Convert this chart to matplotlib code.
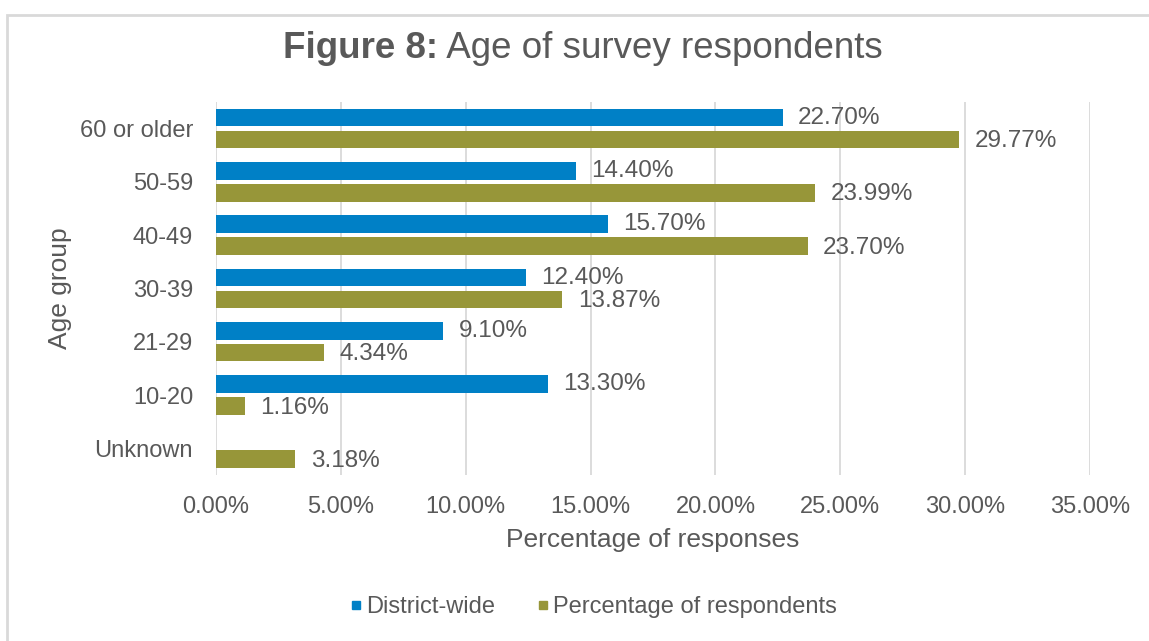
import numpy as np
import matplotlib
matplotlib.use("Agg")
import matplotlib.pyplot as plt
from matplotlib.lines import Line2D
from matplotlib.patches import Rectangle

plt.rcParams['font.family'] = ['Liberation Sans', 'DejaVu Sans']

age_groups = ["60 or older", "50-59", "40-49", "30-39", "21-29", "10-20", "Unknown"]
district_wide = [22.70, 14.40, 15.70, 12.40, 9.10, 13.30, np.nan]
respondents = [29.77, 23.99, 23.70, 13.87, 4.34, 1.16, 3.18]

blue = "#0080C6"
olive = "#979639"
text_col = "#595959"
grid_col = "#D9D9D9"

fig = plt.figure(figsize=(11.49, 6.41), dpi=100)
ax = fig.add_axes([0.188, 0.259, 0.7607, 0.582])

# frame of the chart area
fig.patches.append(Rectangle((7 / 1149, -0.05), 1.1, 1 - 15 / 641 + 0.05,
                             transform=fig.transFigure, fill=False,
                             edgecolor=grid_col, linewidth=2))

y = np.arange(len(age_groups))
h = 0.33
off = 0.205
ax.barh(y - off, district_wide, height=h, color=blue, zorder=2)
ax.barh(y + off, respondents, height=h, color=olive, zorder=2)

for yi, v in zip(y, district_wide):
    if not np.isnan(v):
        ax.annotate(f"{v:.2f}%", (v, yi - off), xytext=(11, 0), textcoords="offset points",
                    va="center", ha="left", fontsize=17.5, color=text_col)
for yi, v in zip(y, respondents):
    ax.annotate(f"{v:.2f}%", (v, yi + off + 0.03), xytext=(11, 0), textcoords="offset points",
                va="center", ha="left", fontsize=17.5, color=text_col)

ax.set_xlim(0, 35)
ax.set_ylim(len(age_groups) - 0.5, -0.5)
ax.set_xticks(np.arange(0, 36, 5))
ax.set_xticklabels([f"{t:.2f}%" for t in np.arange(0, 36, 5)])
ax.set_yticks(y)
ax.set_yticklabels(age_groups)
ax.tick_params(axis="both", length=0, labelsize=17, labelcolor=text_col)
ax.tick_params(axis="y", pad=16.5)
ax.tick_params(axis="x", pad=15)
ax.grid(axis="x", color=grid_col, linewidth=1.3, zorder=0)
for s in ax.spines.values():
    s.set_visible(False)

ax.set_xlabel("Percentage of responses", fontsize=19, color=text_col, va="center")
ax.xaxis.set_label_coords(0.5, -0.175)
ax.set_ylabel("Age group", fontsize=19, color=text_col, va="center")
ax.yaxis.set_label_coords(-0.179, 0.5)

# title: bold prefix + regular rest, centred as a whole
title_y = 1 - 48 / 641
t1 = fig.text(0, title_y, "Figure 8:", fontsize=26.5, fontweight="bold", color=text_col,
              ha="left", va="center")
t2 = fig.text(0, title_y, " Age of survey respondents", fontsize=26.5,
              color=text_col, ha="left", va="center")
fig.canvas.draw()
w1 = t1.get_window_extent().width / fig.bbox.width
w2 = t2.get_window_extent().width / fig.bbox.width
x0 = 583 / 1149 - (w1 + w2) / 2
t1.set_x(x0)
t2.set_x(x0 + w1)

handles = [Line2D([], [], marker="s", linestyle="none", color=blue, markersize=6),
           Line2D([], [], marker="s", linestyle="none", color=olive, markersize=6)]
fig.legend(handles, ["District-wide", "Percentage of respondents"], loc="center",
           bbox_to_anchor=(0.515, 1 - 607 / 641), ncol=2, frameon=False, fontsize=17,
           labelcolor=text_col, handletextpad=0.05, columnspacing=1.6, handlelength=0.8)

fig.savefig("out.png", dpi=100)
